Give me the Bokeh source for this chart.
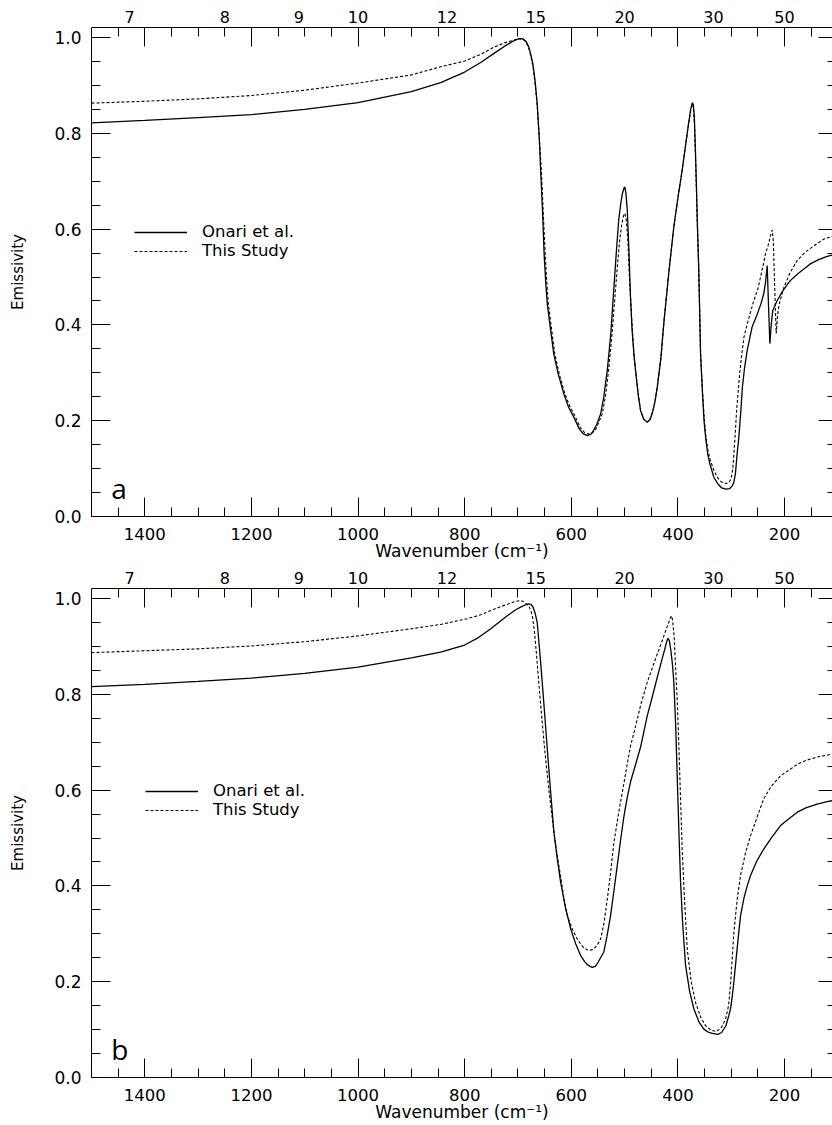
from bokeh.plotting import figure
from bokeh.models import (Range1d, LinearAxis, FixedTicker, PrintfTickFormatter,
                          CustomJSTickFormatter, Legend, LegendItem, Label)
from bokeh.layouts import column
from bokeh.embed import file_html
from bokeh.resources import INLINE

# ---------------- data ----------------
# Panel a
a_onari_wn = [1500, 1400, 1300, 1200, 1100, 1000, 900, 845, 800, 770, 745, 725, 710, 700, 695, 690,
              685, 680, 676, 672, 668, 664, 660, 657.5, 654, 651, 648, 645, 640, 633, 625, 614, 605,
              595, 585, 578, 570, 563, 558, 552, 545, 539, 532.5, 526, 520, 515, 511, 507, 504, 501,
              499.5, 497.5, 495, 492, 489, 486, 482.6, 478, 474, 470, 464, 457.4, 452, 447, 443,
              438.7, 432, 426, 417, 407.6, 400, 392, 385, 380, 376, 373, 371, 369, 367, 365, 363.7,
              361, 359, 357.5, 354, 351, 348, 344, 340, 332.6, 325, 318, 310, 303, 298, 295, 292,
              289, 285.7, 282, 279, 275, 270, 261, 251, 244, 239, 235.5, 232.5, 230, 227.5, 225, 222,
              218, 213.7, 205, 195, 188.7, 175, 160, 151, 135, 120, 110]
a_onari_e = [0.822, 0.827, 0.833, 0.839, 0.850, 0.864, 0.887, 0.906, 0.928, 0.948, 0.967, 0.982, 0.992,
             0.997, 0.998, 0.997, 0.992, 0.981, 0.965, 0.945, 0.910, 0.863, 0.790, 0.723, 0.640, 0.549,
             0.490, 0.444, 0.400, 0.340, 0.300, 0.256, 0.228, 0.207, 0.183, 0.173, 0.169, 0.172, 0.180,
             0.193, 0.214, 0.250, 0.305, 0.380, 0.479, 0.560, 0.619, 0.655, 0.675, 0.686, 0.688, 0.675,
             0.640, 0.560, 0.460, 0.390, 0.340, 0.290, 0.250, 0.221, 0.203, 0.197, 0.203, 0.220, 0.240,
             0.270, 0.330, 0.409, 0.510, 0.605, 0.665, 0.723, 0.780, 0.820, 0.850, 0.864, 0.860, 0.830,
             0.760, 0.680, 0.619, 0.520, 0.420, 0.340, 0.260, 0.200, 0.165, 0.130, 0.110, 0.082, 0.068,
             0.060, 0.057, 0.058, 0.064, 0.072, 0.090, 0.130, 0.165, 0.220, 0.270, 0.310, 0.347, 0.395,
             0.423, 0.445, 0.465, 0.490, 0.524, 0.440, 0.361, 0.400, 0.430, 0.440, 0.451, 0.468, 0.484,
             0.493, 0.507, 0.520, 0.528, 0.537, 0.543, 0.546]
a_study_wn = [1500, 1400, 1300, 1200, 1100, 1000, 900, 845, 800, 770, 745, 725, 710, 700, 695, 690,
              685, 680, 676, 672, 668, 664, 660, 656, 652, 649, 646, 643, 638, 631, 622, 612, 602,
              593, 583, 575, 567, 560, 555, 549, 542, 536, 530, 524, 518, 513, 509, 505, 502, 499.5,
              497, 494, 491, 487, 482, 476, 470, 464, 457, 452, 447, 443, 438.7, 432, 426, 417, 407.6,
              400, 392, 385, 380, 376, 373, 371, 369, 367, 365, 363.7, 361, 359, 357.5, 354, 351, 348,
              344, 340, 332, 325, 318, 310, 304, 300, 297, 295, 292, 290, 287, 284, 280, 276, 268,
              257.6, 250, 245, 240, 235.6, 231, 228, 225, 223, 221, 219, 217, 215.6, 213, 210.6, 206,
              201, 190, 176, 160, 138.7, 125, 110]
a_study_e = [0.863, 0.867, 0.872, 0.879, 0.890, 0.905, 0.922, 0.939, 0.951, 0.965, 0.980, 0.989, 0.994,
             0.997, 0.998, 0.996, 0.991, 0.979, 0.962, 0.940, 0.905, 0.860, 0.790, 0.720, 0.620, 0.550,
             0.490, 0.444, 0.400, 0.340, 0.295, 0.256, 0.228, 0.210, 0.185, 0.175, 0.172, 0.175, 0.180,
             0.195, 0.214, 0.250, 0.305, 0.375, 0.460, 0.530, 0.580, 0.612, 0.628, 0.633, 0.620, 0.580,
             0.500, 0.420, 0.330, 0.270, 0.221, 0.203, 0.197, 0.203, 0.220, 0.240, 0.270, 0.330, 0.409,
             0.510, 0.605, 0.665, 0.723, 0.780, 0.820, 0.848, 0.862, 0.855, 0.820, 0.750, 0.670, 0.619,
             0.520, 0.420, 0.340, 0.265, 0.210, 0.172, 0.140, 0.120, 0.095, 0.080, 0.072, 0.069, 0.071,
             0.080, 0.100, 0.130, 0.180, 0.220, 0.260, 0.300, 0.340, 0.375, 0.410, 0.451, 0.475, 0.500,
             0.525, 0.549, 0.565, 0.578, 0.592, 0.598, 0.575, 0.500, 0.430, 0.382, 0.420, 0.440, 0.460,
             0.479, 0.508, 0.535, 0.553, 0.570, 0.580, 0.585]

# Panel b
b_onari_wn = [1500, 1400, 1300, 1200, 1100, 1000, 900, 845, 800, 775, 751, 735, 720, 705, 695, 686,
              680, 676, 672, 668, 664, 660, 657, 654.5, 650, 645, 639, 632.6, 626, 620, 611, 601, 592,
              582.6, 575, 570, 565, 560.6, 555, 550, 545, 539, 533, 526.3, 520, 513.7, 507, 501, 495,
              488.7, 479, 470, 457.5, 448, 440, 432.5, 425, 421, 418.8, 416, 413, 410, 407.6, 404, 401,
              398, 395, 391, 385.6, 378, 370, 360, 351.3, 342, 335, 325, 318, 310, 304.5, 301, 298,
              295, 292, 287, 282.5, 276, 270, 263.7, 252, 239, 225, 207.5, 190, 176, 160, 138.7, 120,
              110]
b_onari_e = [0.816, 0.821, 0.827, 0.834, 0.844, 0.857, 0.876, 0.888, 0.903, 0.918, 0.937, 0.951, 0.964,
             0.976, 0.982, 0.987, 0.989, 0.988, 0.983, 0.970, 0.951, 0.900, 0.860, 0.825, 0.760, 0.686,
             0.600, 0.512, 0.455, 0.408, 0.355, 0.310, 0.280, 0.255, 0.242, 0.236, 0.232, 0.230, 0.232,
             0.240, 0.250, 0.262, 0.295, 0.338, 0.390, 0.443, 0.500, 0.547, 0.585, 0.618, 0.655, 0.690,
             0.755, 0.795, 0.830, 0.862, 0.893, 0.910, 0.917, 0.912, 0.890, 0.860, 0.825, 0.730, 0.617,
             0.510, 0.408, 0.320, 0.234, 0.180, 0.143, 0.115, 0.101, 0.094, 0.092, 0.090, 0.094, 0.108,
             0.129, 0.145, 0.170, 0.200, 0.234, 0.290, 0.338, 0.375, 0.400, 0.422, 0.452, 0.477, 0.500,
             0.526, 0.542, 0.554, 0.563, 0.571, 0.576, 0.578]
b_study_wn = [1500, 1400, 1300, 1200, 1100, 1000, 900, 845, 795, 770, 751, 735, 720, 708, 700, 695,
              690, 685, 680, 676, 673, 669, 665, 661, 656, 650, 642, 632.6, 626, 620, 614, 607.5, 598,
              588.8, 580, 575, 567, 560, 555, 550, 545, 539, 532.5, 526, 520, 510, 501, 495, 488.7,
              479, 470, 457.5, 445, 435, 426, 419, 414, 412, 410, 407, 404.5, 401, 398, 395, 392, 388,
              382.5, 375, 367, 357, 348, 338, 327.5, 318, 310.6, 305, 301, 298, 295, 289, 282.5, 273,
              263.7, 250, 239, 225, 207.5, 190, 176, 160, 138.7, 120, 110]
b_study_e = [0.887, 0.891, 0.895, 0.901, 0.910, 0.922, 0.937, 0.946, 0.958, 0.966, 0.975, 0.982, 0.988,
             0.993, 0.995, 0.996, 0.994, 0.990, 0.985, 0.975, 0.964, 0.930, 0.880, 0.825, 0.760, 0.686,
             0.600, 0.512, 0.460, 0.420, 0.375, 0.338, 0.310, 0.289, 0.275, 0.270, 0.265, 0.267, 0.272,
             0.279, 0.289, 0.320, 0.372, 0.430, 0.491, 0.560, 0.616, 0.655, 0.693, 0.735, 0.777, 0.825,
             0.865, 0.895, 0.923, 0.945, 0.960, 0.964, 0.955, 0.920, 0.860, 0.780, 0.686, 0.580, 0.477,
             0.380, 0.268, 0.200, 0.157, 0.125, 0.108, 0.099, 0.096, 0.105, 0.122, 0.150, 0.199, 0.250,
             0.303, 0.370, 0.422, 0.470, 0.505, 0.548, 0.582, 0.608, 0.630, 0.643, 0.654, 0.662, 0.669,
             0.673, 0.676]

# axis ticks / labels
wavelength_labels = [7, 8, 9, 10, 12, 15, 20, 30, 50]        # micron, top axis
x_major = [1400, 1200, 1000, 800, 600, 400, 200]
x_minor = list(range(150, 1500, 50))
y_major = [0.0, 0.2, 0.4, 0.6, 0.8, 1.0]
y_minor = [round(0.05 * i, 2) for i in range(21)]
series_labels = ["Onari et al.", "This Study"]
panel_tags = ["a", "b"]

FONT = "DejaVu Sans"


def style_axis(ax, tick_in, minor_in, lab_size="16.5px"):
    ax.axis_line_color = "black"
    ax.axis_line_width = 1
    ax.major_tick_line_color = "black"
    ax.minor_tick_line_color = "black"
    ax.major_tick_in = tick_in
    ax.major_tick_out = 0
    ax.minor_tick_in = minor_in
    ax.minor_tick_out = 0
    ax.major_label_text_font = FONT
    ax.major_label_text_font_size = lab_size
    ax.major_label_text_color = "black"
    ax.axis_label_text_font = FONT
    ax.axis_label_text_font_size = "17px"
    ax.axis_label_text_font_style = "normal"
    ax.axis_label_text_color = "black"


def make_panel(on_wn, on_e, st_wn, st_e, tag, legend_xy, height, top, bottom):
    p = figure(width=832, height=height, x_range=Range1d(1500, 110), y_range=Range1d(0, 1.021),
               output_backend="svg", toolbar_location=None,
               x_axis_location=None, y_axis_location=None,
               min_border_left=91, min_border_right=0, min_border_top=top, min_border_bottom=bottom)
    p.outline_line_color = None
    p.background_fill_color = "white"
    p.border_fill_color = "white"
    p.grid.visible = False

    xt = FixedTicker(ticks=x_major, minor_ticks=x_minor)
    yt = FixedTicker(ticks=y_major, minor_ticks=y_minor)

    bottom_ax = LinearAxis(ticker=xt, axis_label="Wavenumber (cm\u207b\u00b9)")
    style_axis(bottom_ax, 19, 9)
    bottom_ax.major_label_standoff = 11
    bottom_ax.axis_label_standoff = -2
    p.add_layout(bottom_ax, "below")

    left_ax = LinearAxis(ticker=yt, axis_label="Emissivity",
                         formatter=PrintfTickFormatter(format="%.1f"))
    style_axis(left_ax, 19, 9, "17px")
    left_ax.major_label_standoff = 10
    left_ax.axis_label_standoff = 24
    left_ax.axis_label_text_font_size = "15px"
    p.add_layout(left_ax, "left")

    # right edge: inward ticks only (the frame is cut at the right edge)
    right_ax = LinearAxis(ticker=yt)
    style_axis(right_ax, 14, 5)
    right_ax.axis_line_color = None
    right_ax.major_label_text_color = None
    right_ax.major_label_standoff = 0
    p.add_layout(right_ax, "right")

    # top edge: inward ticks (same as bottom) ...
    top_ticks = LinearAxis(ticker=xt)
    style_axis(top_ticks, 19, 9)
    top_ticks.major_label_text_color = None
    top_ticks.major_label_standoff = 0
    p.add_layout(top_ticks, "above")

    # ... and wavelength (micron) labels
    top_labels = LinearAxis(
        ticker=FixedTicker(ticks=[1e4 / w for w in wavelength_labels], minor_ticks=[]),
        formatter=CustomJSTickFormatter(code="return (10000 / tick).toFixed(0)"))
    style_axis(top_labels, 0, 0, "16px")
    top_labels.axis_line_color = None
    top_labels.major_tick_line_color = None
    top_labels.minor_tick_line_color = None
    top_labels.major_label_standoff = 5
    p.add_layout(top_labels, "above")

    r1 = p.line(on_wn, on_e, line_color="black", line_width=1.3)
    r2 = p.line(st_wn, st_e, line_color="black", line_width=1.1, line_dash="3 2")

    legend = Legend(items=[LegendItem(label=series_labels[0], renderers=[r1]),
                           LegendItem(label=series_labels[1], renderers=[r2])],
                    location=legend_xy, glyph_width=53, glyph_height=18, label_height=18,
                    label_standoff=15, spacing=0, padding=0, margin=0,
                    border_line_color=None, background_fill_alpha=0,
                    label_text_font=FONT, label_text_font_size="16.5px",
                    label_text_color="black")
    p.add_layout(legend, "center")

    p.add_layout(Label(x=1463, y=0.0585, text=tag, text_font="Open Sans",
                       text_font_size="28px", text_color="black", text_baseline="alphabetic"))
    return p


pa = make_panel(a_onari_wn, a_onari_e, a_study_wn, a_study_e, panel_tags[0], (43, 256), 564, 27, 48)
pb = make_panel(b_onari_wn, b_onari_e, b_study_wn, b_study_e, panel_tags[1], (54, 258), 561, 24, 48)

layout = column(pa, pb, spacing=0)
open("out.html", "w").write(file_html(layout, INLINE))
